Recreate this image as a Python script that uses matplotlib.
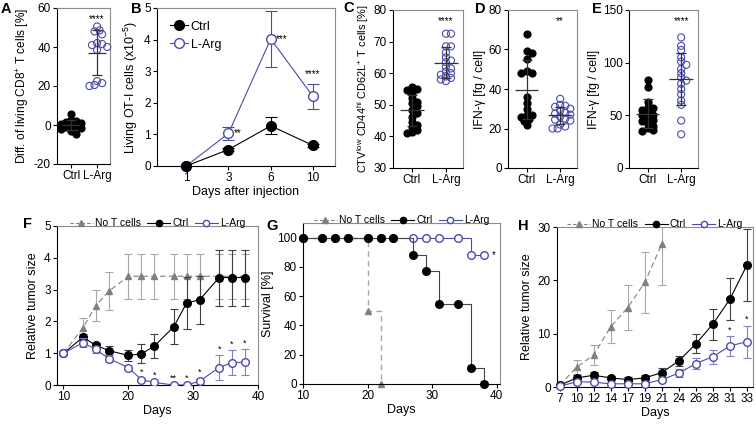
import matplotlib.pyplot as plt
from matplotlib.lines import Line2D
import numpy as np

plt.rcParams['font.family'] = ['Liberation Sans', 'DejaVu Sans']
plt.rcParams['font.size'] = 8
plt.rcParams['mathtext.fontset'] = 'custom'
plt.rcParams['mathtext.rm'] = 'Liberation Sans'
plt.rcParams['mathtext.it'] = 'Liberation Sans:italic'
plt.rcParams['axes.unicode_minus'] = False

# ---------------- data ----------------
groups = ['Ctrl', 'L-Arg']

a_ctrl = [5.5, 2.5, 2, 1.5, 1, 0.5, 0, -0.5, -1, -1.5, -2, -3, -4.5]
a_larg = [50.5, 48.5, 48, 46.5, 42, 41.5, 41, 40, 38.5, 22.5, 21.5, 20.5, 20]

b_days = [1, 3, 6, 10]
b_ctrl = [0, 0.52, 1.27, 0.65]
b_ctrl_err = [0, 0.04, 0.27, 0.05]
b_larg = [0, 1.03, 4.02, 2.2]
b_larg_err = [0, 0.22, 0.9, 0.4]
b_stars = ['', '**', '***', '****']

c_ctrl = [55.5, 55, 54.8, 53.5, 52, 51, 50.5, 49.5, 48.5, 47.5, 46, 44.5, 43.5, 43, 42, 41.5, 41.2]
c_larg = [72.5, 72.5, 68.5, 68.5, 66.5, 65, 64, 63.5, 62, 61.5, 60.5, 60, 59.5, 59, 58.5, 58, 57.5]

d_ctrl = [68, 59, 58, 55, 49, 48, 48, 36, 33, 30, 27, 27, 26, 25, 24, 22]
d_larg = [35, 32, 31.5, 31, 30, 29, 28, 27.5, 27, 26, 25, 24.5, 24, 22, 21, 20, 20]

e_ctrl = [84, 77, 63, 58, 57, 55, 52, 50, 50, 48, 46, 45, 42, 40, 38, 36, 35]
e_larg = [124, 116, 112, 105, 101, 98, 94, 90, 86, 83, 80, 75, 70, 64, 60, 45, 32]

f_days = [10, 13, 15, 17, 20, 22, 24, 27, 29, 31, 34, 36, 38]
f_not = [1, 1.8, 2.5, 2.95, 3.42, 3.42, 3.42, 3.42, 3.42, 3.42, 3.42, 3.42, 3.42]
f_not_err = [0, 0.3, 0.5, 0.6, 0.7, 0.7, 0.7, 0.7, 0.7, 0.7, 0.7, 0.7, 0.7]
f_ctrl = [1, 1.5, 1.25, 1.08, 0.93, 0.98, 1.22, 1.83, 2.58, 2.68, 3.38, 3.38, 3.38]
f_ctrl_err = [0, 0.1, 0.07, 0.15, 0.18, 0.3, 0.38, 0.55, 0.82, 0.76, 0.88, 0.88, 0.88]
f_larg = [1, 1.33, 1.12, 0.83, 0.55, 0.17, 0.08, 0.0, 0.0, 0.12, 0.55, 0.7, 0.72]
f_larg_err = [0, 0.15, 0.12, 0.12, 0.05, 0.05, 0.03, 0.02, 0.02, 0.08, 0.38, 0.4, 0.4]
f_stars = ['', '', '', '', '', '*', '*', '**', '*', '*', '*', '*', '*']

g_not_days = [10, 20, 22]
g_not = [100, 50, 0]
g_days = [10, 13, 15, 17, 20, 22, 24, 27, 29, 31, 34, 36, 38]
g_ctrl = [100, 100, 100, 100, 100, 100, 100, 88, 77, 55, 55, 11, 0]
g_larg = [100, 100, 100, 100, 100, 100, 100, 100, 100, 100, 100, 88, 88]

h_days = [7, 10, 12, 14, 17, 19, 21, 24, 26, 28, 31, 33]
h_not = [0.3, 3.7, 6.0, 11.3, 14.9, 19.6, 26.8]
h_not_err = [0.2, 1.3, 1.8, 3.1, 4.3, 5.8, 7.6]
h_ctrl = [0.3, 1.7, 2.2, 1.7, 1.4, 1.7, 2.7, 4.9, 8.1, 11.8, 16.5, 22.9]
h_ctrl_err = [0.1, 0.5, 0.6, 0.4, 0.4, 0.5, 0.8, 1.0, 1.8, 2.9, 4.0, 6.7]
h_larg = [0.1, 1.0, 0.9, 0.6, 0.6, 0.6, 1.4, 2.6, 4.4, 5.7, 7.7, 8.5]
h_larg_err = [0.05, 0.3, 0.3, 0.2, 0.2, 0.2, 0.4, 0.8, 1.1, 1.3, 1.8, 3.0]
h_stars = ['', '', '', '', '', '', '', '', '', '', '*', '*']

BLUE = '#4b4bab'
LBLUE = '#8080c8'
GRAY = '#808080'
LGRAY = '#a8a8a8'

W, H = 756, 425
fig = plt.figure(figsize=(W / 100, H / 100), dpi=100)


def px_axes(l, t, r, b):
    return fig.add_axes([l / W, 1 - b / H, (r - l) / W, (b - t) / H])


def style(ax):
    for s in ['left', 'bottom']:
        ax.spines[s].set_color('black')
        ax.spines[s].set_linewidth(0.8)
    for s in ['top', 'right']:
        ax.spines[s].set_color('#8c8c8c')
        ax.spines[s].set_linewidth(0.8)
    ax.tick_params(direction='out', length=3, width=0.8, labelsize=8.5, pad=1.5)


def swarm(ax, vals, d=4.6):
    # simple beeswarm offsets (in x data units) so dots do not overlap too much
    bb = ax.get_position()
    hpx = bb.height * H
    wpx = bb.width * W
    y0, y1 = ax.get_ylim()
    x0, x1 = ax.get_xlim()
    sy = hpx / (y1 - y0)
    sx = wpx / (x1 - x0)
    vals = np.asarray(vals, float)
    offs = np.zeros(len(vals))
    placed = []
    for i in np.argsort(vals)[::-1]:
        y = vals[i] * sy
        for k in [0, 1, -1, 2, -2, 3, -3, 4, -4, 5, -5]:
            x = k * d * 0.55
            if all((x - px) ** 2 + (y - py) ** 2 >= (d * 0.9) ** 2 for px, py in placed):
                break
        placed.append((x, y))
        offs[i] = x / sx
    return offs


def dot_panel(ax, ctrl, larg, ylim, yticks, ylabel, stars, lab_size=8.8):
    style(ax)
    ax.set_xlim(-0.55, 1.5)
    ax.set_ylim(*ylim)
    ax.set_yticks(yticks)
    ax.set_xticks([0, 1])
    ax.set_xticklabels(groups)
    ax.set_ylabel(ylabel, fontsize=lab_size, labelpad=2)
    ax.scatter(0 + swarm(ax, ctrl), ctrl, s=24, color='black', zorder=3, clip_on=False)
    ax.scatter(1 + swarm(ax, larg), larg, s=26, facecolor='none', edgecolor=BLUE,
               linewidth=0.8, zorder=3, clip_on=False)
    for pos, v in [(0, ctrl), (1, larg)]:
        m, sd = np.mean(v), np.std(v, ddof=1)
        ax.hlines(m, pos - 0.35, pos + 0.35, color='#333333', lw=0.9, zorder=4)
        ax.errorbar(pos, m, yerr=sd, color='#333333', lw=0.9, capsize=3.5, capthick=0.9, zorder=4)
    ax.text(1, ylim[0] + (ylim[1] - ylim[0]) * 0.93, stars, ha='center', va='center', fontsize=7)


# ---------------- A ----------------
axA = px_axes(57, 8, 110, 164)
dot_panel(axA, a_ctrl, a_larg, (-20, 60), [-20, 0, 20, 40, 60],
          'Diff. of living CD8$^{+}$ T cells [%]', '****', lab_size=8.6)

# ---------------- B ----------------
axB = px_axes(157, 8, 335, 166)
style(axB)
bx = np.arange(len(b_days))
axB.errorbar(bx, b_larg, yerr=b_larg_err, fmt='-o', color=BLUE, mfc='white', mec=BLUE,
             ms=7, lw=0.8, capsize=4, capthick=0.8, zorder=3, clip_on=False)
axB.errorbar(bx, b_ctrl, yerr=b_ctrl_err, fmt='-o', color='black', ms=7, lw=0.8,
             capsize=4, capthick=0.8, zorder=4, clip_on=False)
for i, s in enumerate(b_stars):
    if s and i < 3:
        axB.text(bx[i] + 0.12, b_larg[i], s, fontsize=7, va='center', ha='left')
    elif s:
        axB.text(bx[i], b_larg[i] + b_larg_err[i] + 0.15, s, fontsize=7, ha='center', va='bottom')
axB.set_xlim(-0.69, 3.52)
axB.set_ylim(0, 5)
axB.set_xticks(bx)
axB.set_xticklabels(b_days)
axB.set_ylabel('Living OT-I cells (x10$^{-5}$)', fontsize=9, labelpad=3)
axB.set_xlabel('Days after injection', fontsize=9, labelpad=1)
axB.legend(handles=[Line2D([], [], color='black', marker='o', ms=7, lw=0.8, label='Ctrl'),
                    Line2D([], [], color=BLUE, marker='o', mfc='white', ms=7, lw=0.8, label='L-Arg')],
           loc='upper left', frameon=False, fontsize=9, handlelength=1.5, handletextpad=0.2,
           borderaxespad=0.6)

# ---------------- C, D, E ----------------
axC = px_axes(393, 10, 463, 168)
dot_panel(axC, c_ctrl, c_larg, (30, 80), [30, 40, 50, 60, 70, 80],
          r'CTV$^{\mathrm{low}}$ CD44$^{\mathrm{hi}}$ CD62L$^{+}$ T cells [%]', '****', lab_size=7.9)
axD = px_axes(508, 10, 577, 168)
dot_panel(axD, d_ctrl, d_larg, (0, 80), [0, 20, 40, 60, 80], 'IFN-γ [fg / cell]', '**')
axE = px_axes(629, 10, 698, 168)
dot_panel(axE, e_ctrl, e_larg, (0, 150), [0, 50, 100, 150], 'IFN-γ [fg / cell]', '****')

# ---------------- F ----------------
axF = px_axes(57, 226, 258, 385)
style(axF)
axF.errorbar(f_days, f_not, yerr=f_not_err, fmt='--^', color=GRAY, ecolor=LGRAY, ms=5,
             lw=0.8, dashes=(5, 3), capsize=3, capthick=0.8, zorder=2)
axF.errorbar(f_days, f_ctrl, yerr=f_ctrl_err, fmt='-o', color='black', ecolor='#404040', ms=5.5,
             lw=0.8, capsize=3, capthick=0.8, zorder=3)
axF.errorbar(f_days, f_larg, yerr=f_larg_err, fmt='-o', color=BLUE, mfc='white', ecolor=LBLUE,
             ms=5.5, lw=0.8, capsize=3, capthick=0.8, zorder=4)
for d, v, e, s in zip(f_days, f_larg, f_larg_err, f_stars):
    if s:
        axF.text(d, v + e + 0.05, s, fontsize=6.5, ha='center', va='bottom')
axF.set_xlim(9, 40)
axF.set_ylim(0, 5)
axF.set_xticks([10, 20, 30, 40])
axF.set_yticks(range(6))
axF.set_ylabel('Relative tumor size', fontsize=9, labelpad=4)
axF.set_xlabel('Days', fontsize=9, labelpad=1)

leg_handles = [Line2D([], [], color=GRAY, ls='--', dashes=(3, 2), marker='^', ms=4, lw=0.8, label='No T cells'),
               Line2D([], [], color='black', marker='o', ms=4.5, lw=0.8, label='Ctrl'),
               Line2D([], [], color=BLUE, marker='o', mfc='white', ms=4.5, lw=0.8, label='L-Arg')]


def top_legend(ax):
    ax.legend(handles=leg_handles, loc='lower center', bbox_to_anchor=(0.5, 0.985), ncol=3,
              frameon=False, fontsize=7.5, handlelength=2.2, handletextpad=0.2,
              columnspacing=0.6, borderaxespad=0, borderpad=0)


top_legend(axF)

# ---------------- G ----------------
axG = px_axes(303, 223, 500, 384)
style(axG)
axG.step(g_not_days, g_not, where='post', color=LGRAY, ls='--', lw=1.0, dashes=(4, 3), zorder=2)
axG.plot(g_not_days, g_not, ls='none', marker='^', ms=4.5, color=GRAY, zorder=2, clip_on=False)
axG.step(g_days, g_larg, where='post', color=BLUE, lw=0.8, zorder=3)
axG.plot(g_days, g_larg, ls='none', marker='o', ms=5.5, mfc='white', mec=BLUE, zorder=3, clip_on=False)
axG.step(g_days, g_ctrl, where='post', color='#444444', lw=0.8, zorder=4)
axG.plot(g_days, g_ctrl, ls='none', marker='o', ms=5.5, color='black', zorder=5, clip_on=False)
axG.text(g_days[-1] + 1.3, g_larg[-1], '*', fontsize=7, ha='left', va='center')
axG.set_xlim(10, 40.5)
axG.set_ylim(0, 110)
axG.set_xticks([10, 20, 30, 40])
axG.set_yticks([0, 20, 40, 60, 80, 100])
axG.set_ylabel('Survival [%]', fontsize=9, labelpad=2)
axG.set_xlabel('Days', fontsize=9, labelpad=1)
top_legend(axG)

# ---------------- H ----------------
axH = px_axes(557, 227, 753, 387)
style(axH)
hx = np.arange(len(h_days))
axH.errorbar(hx[:len(h_not)], h_not, yerr=h_not_err, fmt='--^', color=GRAY, ecolor=LGRAY, ms=5,
             lw=0.8, dashes=(5, 3), capsize=3, capthick=0.8, zorder=2)
axH.errorbar(hx, h_ctrl, yerr=h_ctrl_err, fmt='-o', color='black', ecolor='#404040', ms=5.5,
             lw=0.8, capsize=3, capthick=0.8, zorder=3, clip_on=False)
axH.errorbar(hx, h_larg, yerr=h_larg_err, fmt='-o', color=BLUE, mfc='white', ecolor=LBLUE,
             ms=5.5, lw=0.8, capsize=3, capthick=0.8, zorder=4, clip_on=False)
for x, v, e, s in zip(hx, h_larg, h_larg_err, h_stars):
    if s:
        axH.text(x, v + e + 0.3, s, fontsize=6.5, ha='center', va='bottom')
axH.set_xlim(-0.15, 11.35)
axH.set_ylim(0, 30)
axH.set_xticks(hx)
axH.set_xticklabels(h_days)
axH.set_yticks([0, 10, 20, 30])
axH.set_ylabel('Relative tumor size', fontsize=9, labelpad=3)
axH.set_xlabel('Days', fontsize=9, labelpad=1)
top_legend(axH)

# panel letters
for lab, x, y in [('A', 6, 9), ('B', 136, 9), ('C', 349, 8), ('D', 480, 9), ('E', 597, 9),
                  ('F', 28, 224), ('G', 272, 226), ('H', 523, 226)]:
    fig.text(x / W, 1 - y / H, lab, fontsize=10.5, fontweight='bold', ha='center', va='center')

fig.savefig('out.png', dpi=100)
